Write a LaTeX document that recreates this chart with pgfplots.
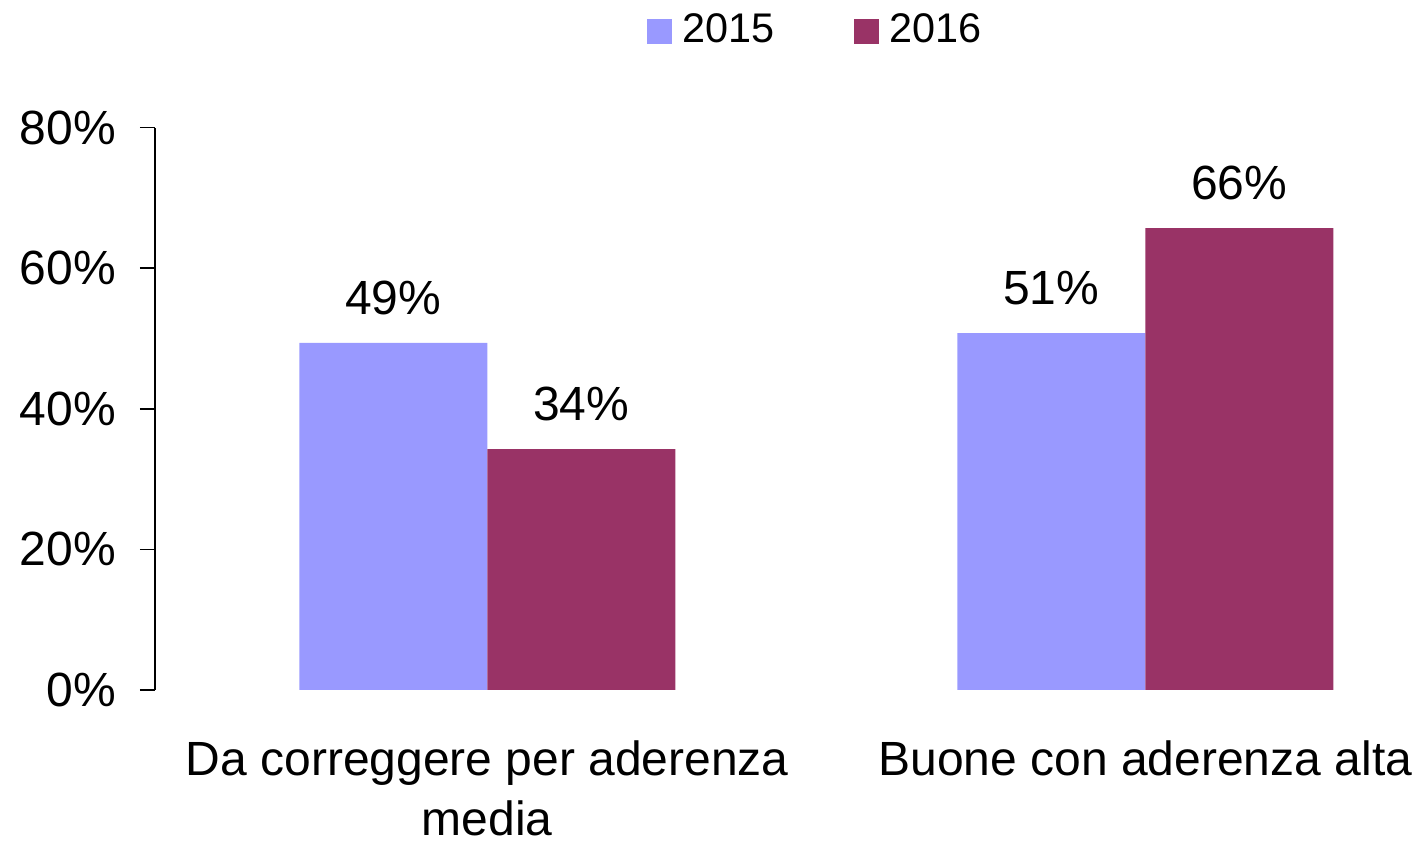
\documentclass[border=0pt]{standalone}
\usepackage{fontspec}
\setmainfont{Liberation Sans}
\usepackage{pgfplots}
\pgfplotsset{compat=1.18}
\definecolor{c2015}{HTML}{9999FF}
\definecolor{c2016}{HTML}{993366}
\newcommand{\lf}{\fontsize{12}{15}\selectfont}
\begin{document}
\begin{tikzpicture}
\useasboundingbox (-38.75pt,-38.25pt) rectangle (316pt,172.5pt);
\begin{axis}[
  scale only axis,
  width=316pt, height=140.6pt,
  xmin=-0.505, xmax=1.416,
  ymin=0, ymax=80,
  ybar=0pt, bar width=47pt,
  axis x line*=bottom, axis y line*=left,
  x axis line style={draw=none},
  y axis line style={-, line width=0.4pt, black},
  xtick={0,1},
  xticklabels={{Da correggere per aderenza\\media},{Buone con aderenza alta}},
  xtick style={draw=none},
  xticklabel style={align=center, font=\lf, yshift=-5.5pt},
  ytick={0,20,40,60,80},
  yticklabels={0\%,20\%,40\%,60\%,80\%},
  ytick style={line width=0.4pt, black},
  tick align=outside,
  major tick length=3.75pt,
  yticklabel style={font=\lf, xshift=-2.5pt},
  /pgf/number format/assume math mode=true,
  nodes near coords={\pgfmathprintnumber[fixed,precision=0]{\pgfplotspointmeta}\%},
  every node near coord/.append style={font=\lf, yshift=3.5pt, black},
  legend style={draw=none, font=\fontsize{10.35}{12}\selectfont, at={(axis description cs:0.5246,1.1716)}, anchor=center,
    /tikz/every even column/.append style={column sep=17.8pt}},
  legend columns=2,
  legend image code/.code={\path[#1, draw=none] (0pt,-3.125pt) rectangle (6.4pt,3.125pt); \path (6.9pt,0pt);},
  clip=false,
]
\addplot[fill=c2015, draw=none] coordinates {(0,49.39) (1,50.77)};
\addplot[fill=c2016, draw=none] coordinates {(0,34.28) (1,65.7)};
\legend{2015,2016}
\end{axis}
\end{tikzpicture}
\end{document}
